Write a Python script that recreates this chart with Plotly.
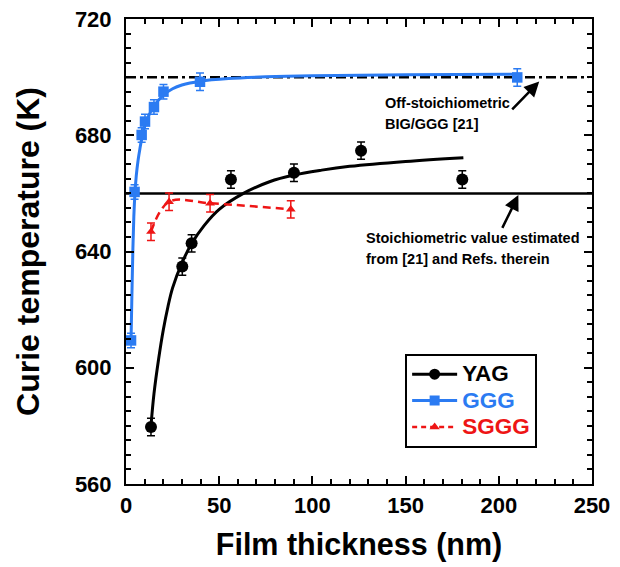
import plotly.graph_objects as go

# ---------------- data ----------------
yag_x = [13.4, 30.2, 35.2, 56.3, 90.1, 126.1, 180.4]
yag_y = [579.6, 634.8, 642.8, 664.8, 667.1, 674.7, 664.8]
yag_err = [3, 3, 3, 3, 3, 3, 3]

ggg_x = [2.7, 4.6, 8.4, 10.2, 15.0, 20.1, 39.7, 209.9]
ggg_y = [609.4, 660.5, 680.1, 684.7, 689.7, 695.0, 698.4, 699.9]
ggg_err = [2.5, 2.5, 2.5, 2.5, 2.5, 2.5, 3, 3]

sggg_x = [13.4, 23.1, 45.1, 88.4]
sggg_y = [646.8, 657.1, 656.6, 654.5]
sggg_err = [3, 3, 3, 3]

# fitted curves
yag_fit_x = [13.4, 15, 17.5, 20, 22.5, 25, 30, 35, 42, 50, 63, 77, 90, 105, 120, 150, 181]
yag_fit_y = [580, 591, 603, 613, 621, 627.5, 636, 642.5, 649, 654.5, 660, 664, 666.3, 668, 669.3, 671, 672.3]

ggg_fit_x = [2.7, 3.2, 3.7, 4.2, 4.8, 5.5, 6.5, 7.5, 8.5, 10, 12, 15, 20, 25, 30, 40, 55, 75, 100, 150, 210]
ggg_fit_y = [609.4, 626, 641, 652, 660, 666, 671.5, 675.5, 679, 683, 686.5, 690, 693.8, 696, 697.3, 698.6, 699.5, 700.1, 700.5, 700.8, 701]

stoich_value = 660
offstoich_value = 700

x_ticks = [0, 50, 100, 150, 200, 250]
y_ticks = [560, 600, 640, 680, 720]

BLACK = "#000000"
BLUE = "#2B7BF2"
RED = "#EE1515"
FONT = "Liberation Sans, Arial, Helvetica, sans-serif"

fig = go.Figure()

# fit curves
fig.add_trace(go.Scatter(x=yag_fit_x, y=yag_fit_y, mode="lines", line=dict(color=BLACK, width=3, shape="spline"),
                         showlegend=False, hoverinfo="skip"))
fig.add_trace(go.Scatter(x=ggg_fit_x, y=ggg_fit_y, mode="lines", line=dict(color=BLUE, width=3, shape="spline"),
                         showlegend=False, hoverinfo="skip"))
fig.add_trace(go.Scatter(x=sggg_x, y=sggg_y, mode="lines", line=dict(color=RED, width=2.5, dash="8px,5px", shape="spline"),
                         showlegend=False, hoverinfo="skip"))

# data points
fig.add_trace(go.Scatter(x=yag_x, y=yag_y, mode="markers", marker=dict(symbol="circle", size=12, color=BLACK),
                         error_y=dict(type="data", array=yag_err, color=BLACK, thickness=1.5, width=4),
                         showlegend=False))
fig.add_trace(go.Scatter(x=ggg_x, y=ggg_y, mode="markers", marker=dict(symbol="square", size=10.5, color=BLUE),
                         error_y=dict(type="data", array=ggg_err, color=BLUE, thickness=1.5, width=4),
                         showlegend=False))
fig.add_trace(go.Scatter(x=sggg_x, y=sggg_y, mode="markers", marker=dict(symbol="triangle-up", size=8.5, color=RED),
                         error_y=dict(type="data", array=sggg_err, color=RED, thickness=1.5, width=4),
                         showlegend=False))

# legend entries
LEG_PX = 22.5
def leg_name(txt, col):
    return f"<span style='color:{col};font-size:{LEG_PX}px'>{txt}</span>"

fig.add_trace(go.Scatter(x=[None], y=[None], mode="lines+markers", name=leg_name("YAG", BLACK),
                         line=dict(color=BLACK, width=3), marker=dict(symbol="circle", size=11, color=BLACK)))
fig.add_trace(go.Scatter(x=[None], y=[None], mode="lines+markers", name=leg_name("GGG", BLUE),
                         line=dict(color=BLUE, width=3), marker=dict(symbol="square", size=10, color=BLUE)))
fig.add_trace(go.Scatter(x=[None], y=[None], mode="lines+markers", name=leg_name("SGGG", RED),
                         line=dict(color=RED, width=2.5, dash="5px,4px"), marker=dict(symbol="triangle-up", size=9, color=RED)))

# reference lines
fig.add_shape(type="line", xref="x", yref="y", x0=0, x1=250, y0=stoich_value, y1=stoich_value,
              line=dict(color=BLACK, width=2.5), layer="below")
fig.add_shape(type="line", xref="x", yref="y", x0=0, x1=248, y0=offstoich_value, y1=offstoich_value,
              line=dict(color=BLACK, width=2.5, dash="10px,4px,3px,4px"), layer="below")

ann_font = dict(family=FONT, size=14.5, color=BLACK, weight="bold")
annotations = [
    dict(x=138.0, y=691.1, text="Off-stoichiometric", xanchor="left", yanchor="middle", showarrow=False, font=ann_font),
    dict(x=138.0, y=683.9, text="BIG/GGG [21]", xanchor="left", yanchor="middle", showarrow=False, font=ann_font),
    dict(x=127.7, y=644.6, text="Stoichiometric value estimated", xanchor="left", yanchor="middle", showarrow=False, font=ann_font),
    dict(x=127.7, y=637.4, text="from [21] and Refs. therein", xanchor="left", yanchor="middle", showarrow=False, font=ann_font),
    dict(x=221.7, y=698.5, ax=206.4, ay=688.4, axref="x", ayref="y", text="", showarrow=True,
         arrowhead=2, arrowsize=1.2, arrowwidth=2.5, arrowcolor=BLACK),
    dict(x=210.5, y=659.4, ax=201.5, ay=647.6, axref="x", ayref="y", text="", showarrow=True,
         arrowhead=2, arrowsize=1.2, arrowwidth=2.5, arrowcolor=BLACK),
]
for a in annotations:
    a.setdefault("xref", "x")
    a.setdefault("yref", "y")
    fig.add_annotation(**a)

axis_common = dict(showline=True, linecolor=BLACK, linewidth=2, mirror="allticks", ticks="inside",
                   ticklen=8, tickwidth=1.5, tickcolor=BLACK, showgrid=False, zeroline=False,
                   tickfont=dict(family=FONT, size=22, color=BLACK, weight="bold"))

fig.update_xaxes(range=[0, 250], tickvals=x_ticks, ticklabelstandoff=1,
                 minor=dict(dtick=10, ticks="inside", ticklen=5, tickwidth=1.5, tickcolor=BLACK),
                 title=dict(text="Film thickness (nm)", font=dict(family=FONT, size=30.5, color=BLACK, weight="bold"), standoff=16),
                 **axis_common)
fig.update_yaxes(range=[560, 720], tickvals=y_ticks, ticklabelstandoff=8,
                 minor=dict(dtick=5, ticks="inside", ticklen=5, tickwidth=1.5, tickcolor=BLACK),
                 title=dict(text="Curie temperature (K)", font=dict(family=FONT, size=32, color=BLACK, weight="bold"), standoff=26),
                 **axis_common)

fig.update_layout(
    width=620, height=567,
    margin=dict(l=126, r=28, t=19, b=83, autoexpand=False),
    plot_bgcolor="white", paper_bgcolor="white",
    legend=dict(x=0.599, y=0.2796, xanchor="left", yanchor="top", bgcolor="white",
                bordercolor=BLACK, borderwidth=2, font=dict(family=FONT, size=18, weight="bold"),
                itemwidth=45, tracegroupgap=0),
)

fig.write_html("out.html")
